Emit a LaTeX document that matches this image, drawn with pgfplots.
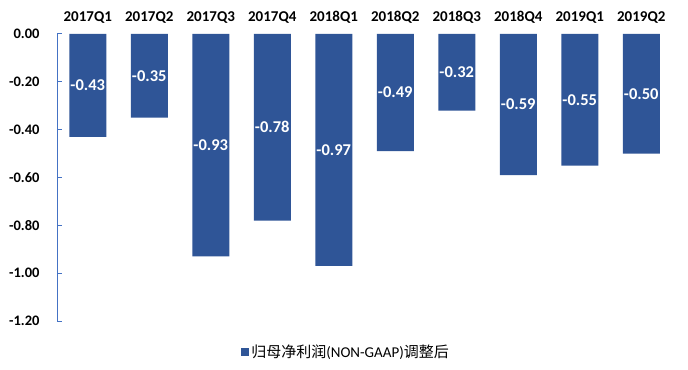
\documentclass[border=0pt]{standalone}
\usepackage{pgfplots}
\usepackage{pgfplotstable}
\pgfplotsset{compat=1.18}
\usepackage{fontspec}
\setmainfont{Carlito}
\newfontfamily\cjk{Noto Sans CJK SC}
\definecolor{barblue}{RGB}{47,85,151}
\definecolor{axblue}{RGB}{68,114,196}
\pgfplotstableread{
x v
0 -0.43
1 -0.35
2 -0.93
3 -0.78
4 -0.97
5 -0.49
6 -0.32
7 -0.59
8 -0.55
9 -0.50
}\datatable
\begin{document}
\begin{tikzpicture}
\path[use as bounding box] (0,0) rectangle (688bp,370bp);
\begin{axis}[
  at={(57bp,49bp)}, anchor=south west,
  scale only axis, width=615bp, height=287bp,
  xmin=-0.5, xmax=9.5, ymin=-1.2, ymax=0,
  axis x line=top, axis y line=left,
  x axis line style={draw=none},
  y axis line style={draw=axblue, line width=1bp, -},
  xtick={0,...,9},
  xticklabels={2017Q1,2017Q2,2017Q3,2017Q4,2018Q1,2018Q2,2018Q3,2018Q4,2019Q1,2019Q2},
  xtick style={draw=none},
  xticklabel style={font=\fontsize{15bp}{17bp}\selectfont\bfseries, yshift=7bp},
  ytick={-1.2,-1,...,0},
  ytick style={draw=axblue, line width=1bp},
  tick align=inside,
  major tick length=5bp,
  yticklabel style={font=\fontsize{14.5bp}{16bp}\selectfont\bfseries, xshift=-14bp},
  /pgf/number format/.cd, fixed, fixed zerofill, precision=2, assume math mode=true,
  /pgfplots/.cd,
  legend style={at={(0.470,-0.108)}, anchor=center, draw=none, fill=none,
    font=\fontsize{15bp}{17bp}\selectfont, legend cell align=left},
  legend image code/.code={\fill[barblue] (0bp,-4bp) rectangle (8bp,4bp);},
]
\addplot[ybar, bar width=37bp, fill=barblue, draw=none] table[x=x, y=v] {\datatable};
\addlegendentry{{\cjk 归母净利润}(NON-GAAP){\cjk 调整后}}
\addplot[draw=none, no markers, forget plot, point meta=explicit,
  nodes near coords,
  nodes near coords style={anchor=center, text=white, font=\fontsize{16.5bp}{18bp}\selectfont\bfseries}]
  table[x=x, y expr=\thisrow{v}/2, meta=v] {\datatable};
\end{axis}
\end{tikzpicture}
\end{document}
